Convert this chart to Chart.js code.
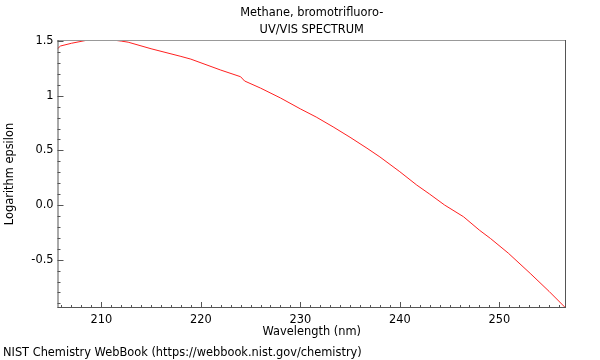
<!DOCTYPE html>
<html>
<head>
<meta charset="utf-8">
<script src="https://cdn.jsdelivr.net/npm/chart.js@4/dist/chart.umd.min.js"></script>
<style>
  html, body { margin: 0; padding: 0; background: #fff; }
</style>
</head>
<body>
<canvas id="myChart" width="600" height="360"></canvas>
<script>
// spectrum (nm, log epsilon)
const wavelength = [205.6, 205.9, 207.0, 208.4, 209.0, 210.0, 211.4, 212.0, 212.7, 215.0,
    218.0, 219.0, 222.0, 224.0, 224.4, 226.0, 228.0, 230.0, 231.6, 233.3,
    235.0, 236.7, 238.0, 240.0, 241.7, 243.0, 244.5, 246.4, 248.0, 249.1,
    250.9, 253.1, 255.0, 256.7];
const logEps = [1.43, 1.455, 1.48, 1.505, 1.508, 1.508, 1.507, 1.50, 1.49, 1.43,
    1.36, 1.335, 1.235, 1.174, 1.135, 1.07, 0.98, 0.88, 0.805, 0.715,
    0.62, 0.52, 0.44, 0.305, 0.183, 0.10, 0.0, -0.107, -0.23, -0.305,
    -0.44, -0.625, -0.79, -0.945];
const xTicks = [210, 220, 230, 240, 250];
const yTickLabels = {'1.5': '1.5', '1': '1', '0.5': '0.5', '0': '0.0', '-0.5': '-0.5'};
const titleLines = ['Methane, bromotrifluoro-', 'UV/VIS SPECTRUM'];
const xLabel = 'Wavelength (nm)';
const yLabel = 'Logarithm epsilon';
const footer = 'NIST Chemistry WebBook (https://webbook.nist.gov/chemistry)';

const FONT_SIZE = 11.4;
const FONT = FONT_SIZE + 'px "DejaVu Sans", sans-serif';

// inward ticks, frame and the text around the plot
const decor = {
    id: 'decor',
    afterDraw(chart) {
        const ctx = chart.ctx;
        const a = chart.chartArea;
        const xs = chart.scales.x, ys = chart.scales.y;
        ctx.save();
        ctx.lineWidth = 1;
        // frame
        ctx.strokeStyle = '#999';
        ctx.beginPath();
        ctx.moveTo(a.left, a.top + 0.5); ctx.lineTo(a.right, a.top + 0.5);
        ctx.stroke();
        ctx.strokeStyle = '#555';
        ctx.beginPath();
        ctx.moveTo(a.right - 0.5, a.top); ctx.lineTo(a.right - 0.5, a.bottom);
        ctx.moveTo(a.left + 0.5, a.top); ctx.lineTo(a.left + 0.5, a.bottom);
        ctx.moveTo(a.left, a.bottom - 0.5); ctx.lineTo(a.right, a.bottom - 0.5);
        ctx.stroke();
        // x ticks: minor every 1 nm, major every 10
        ctx.beginPath();
        for (let v = Math.ceil(xs.min); v <= xs.max; v++) {
            const px = Math.round(xs.getPixelForValue(v)) + 0.5;
            const len = v % 10 === 0 ? 6 : 3;
            ctx.moveTo(px, a.bottom); ctx.lineTo(px, a.bottom - len);
        }
        // y ticks: minor every 0.1, major every 0.5
        for (let i = Math.ceil(ys.min * 10); i <= Math.floor(ys.max * 10); i++) {
            const py = Math.round(ys.getPixelForValue(i / 10)) + 0.5;
            const len = i % 5 === 0 ? 6 : 3;
            ctx.moveTo(a.left, py); ctx.lineTo(a.left + len, py);
        }
        ctx.stroke();
        // texts
        ctx.fillStyle = '#000';
        ctx.font = FONT;
        ctx.textAlign = 'center';
        ctx.textBaseline = 'middle';
        const cx = (a.left + a.right) / 2;
        ctx.fillText(titleLines[0], cx, 13);
        ctx.fillText(titleLines[1], cx, 30);
        ctx.fillText(xLabel, cx, 332);
        ctx.textAlign = 'left';
        ctx.fillText(footer, 3, 353);
        ctx.translate(10.5, (a.top + a.bottom) / 2);
        ctx.rotate(-Math.PI / 2);
        ctx.textAlign = 'center';
        ctx.fillText(yLabel, 0, 0);
        ctx.restore();
    }
};

new Chart('myChart', {
    type: 'line',
    data: {
        datasets: [{
            data: wavelength.map((w, i) => ({x: w, y: logEps[i]})),
            borderColor: '#ff2020',
            borderWidth: 1,
            pointRadius: 0,
            tension: 0,
            fill: false
        }]
    },
    options: {
        responsive: false,
        animation: false,
        layout: { padding: { top: 40, right: 34, bottom: 0, left: 0 } },
        plugins: {
            legend: { display: false },
            tooltip: { enabled: false },
            title: { display: false }
        },
        scales: {
            x: {
                type: 'linear',
                min: 205.6,
                max: 256.7,
                afterFit(scale) { scale.height = 52; },
                grid: { display: false, drawTicks: false, tickLength: 0 },
                border: { display: false },
                ticks: {
                    stepSize: 10,
                    includeBounds: false,
                    autoSkip: false,
                    maxRotation: 0,
                    padding: 5,
                    color: '#000',
                    font: { family: 'DejaVu Sans', size: FONT_SIZE },
                    callback: v => xTicks.includes(v) ? String(v) : ''
                }
            },
            y: {
                type: 'linear',
                min: -0.942,
                max: 1.51,
                afterFit(scale) { scale.width = 57.5; },
                grid: { display: false, drawTicks: false, tickLength: 0 },
                border: { display: false },
                ticks: {
                    stepSize: 0.5,
                    includeBounds: false,
                    autoSkip: false,
                    padding: 4,
                    color: '#000',
                    font: { family: 'DejaVu Sans', size: FONT_SIZE },
                    callback: v => yTickLabels[String(Math.round(v * 10) / 10)] ?? ''
                }
            }
        }
    },
    plugins: [decor]
});
</script>
</body>
</html>
